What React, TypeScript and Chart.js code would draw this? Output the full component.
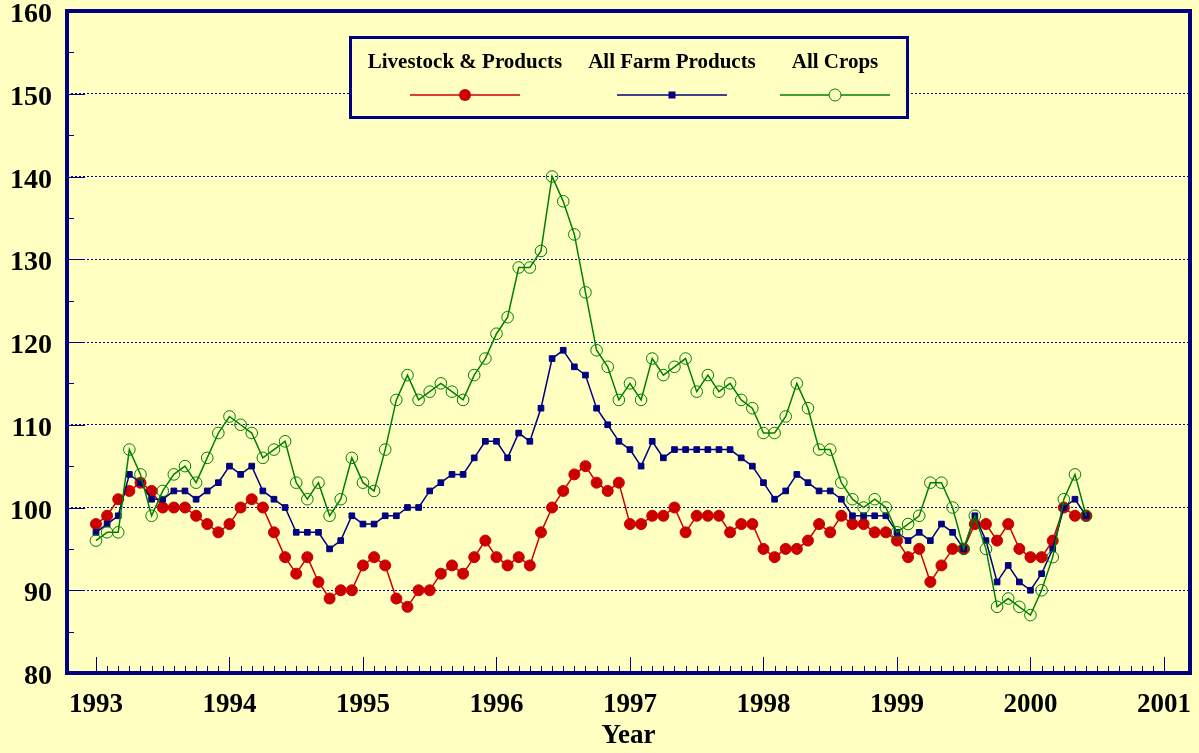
import React, { useEffect, useRef } from "react";
import { Chart, registerables } from "chart.js";

Chart.register(...registerables);

// ---------- data ----------
const START_YEAR = 1993; // first point = January 1993, monthly series
const yearTicks = [1993, 1994, 1995, 1996, 1997, 1998, 1999, 2000, 2001];
const yValueTicks = [80, 90, 100, 110, 120, 130, 140, 150, 160];
const seriesNames = ["Livestock & Products", "All Farm Products", "All Crops"];

const livestock = [
  98, 99, 101, 102, 103, 102, 100, 100, 100, 99, 98, 97,
  98, 100, 101, 100, 97, 94, 92, 94, 91, 89, 90, 90,
  93, 94, 93, 89, 88, 90, 90, 92, 93, 92, 94, 96,
  94, 93, 94, 93, 97, 100, 102, 104, 105, 103, 102, 103,
  98, 98, 99, 99, 100, 97, 99, 99, 99, 97, 98, 98,
  95, 94, 95, 95, 96, 98, 97, 99, 98, 98, 97, 97,
  96, 94, 95, 91, 93, 95, 95, 98, 98, 96, 98, 95,
  94, 94, 96, 100, 99, 99,
];

const farm = [
  97, 98, 99, 104, 103, 101, 101, 102, 102, 101, 102, 103,
  105, 104, 105, 102, 101, 100, 97, 97, 97, 95, 96, 99,
  98, 98, 99, 99, 100, 100, 102, 103, 104, 104, 106, 108,
  108, 106, 109, 108, 112, 118, 119, 117, 116, 112, 110, 108,
  107, 105, 108, 106, 107, 107, 107, 107, 107, 107, 106, 105,
  103, 101, 102, 104, 103, 102, 102, 101, 99, 99, 99, 99,
  97, 96, 97, 96, 98, 97, 95, 99, 96, 91, 93, 91,
  90, 92, 95, 100, 101, 99,
];

const crops = [
  96, 97, 97, 107, 104, 99, 102, 104, 105, 103, 106, 109,
  111, 110, 109, 106, 107, 108, 103, 101, 103, 99, 101, 106,
  103, 102, 107, 113, 116, 113, 114, 115, 114, 113, 116, 118,
  121, 123, 129, 129, 131, 140, 137, 133, 126, 119, 117, 113,
  115, 113, 118, 116, 117, 118, 114, 116, 114, 115, 113, 112,
  109, 109, 111, 115, 112, 107, 107, 103, 101, 100, 101, 100,
  97, 98, 99, 103, 103, 100, 95, 99, 95, 88, 89, 88,
  87, 90, 94, 101, 104, 99,
];

// ---------- styles ----------
const BG = "#FFFFC2";
const NAVY = "#000080";
const RED = "#CC0000";
const BLUE = "#000080";
const GREEN = "#008000";
const FONT = '"Liberation Serif", "Times New Roman", serif';

const toPoints = (vals: number[]) =>
  vals.map((y, i) => ({ x: START_YEAR + i / 12, y }));

const decorPlugin = {
  id: "decor",
  beforeDraw(chart: any) {
    const { ctx, width, height } = chart;
    ctx.save();
    ctx.fillStyle = BG;
    ctx.fillRect(0, 0, width, height);
    ctx.restore();
  },
  afterDraw(chart: any) {
    const { ctx, chartArea: a, scales } = chart;
    const xs = scales.x;
    const ys = scales.y;
    ctx.save();
    ctx.strokeStyle = NAVY;
    ctx.lineWidth = 1;
    // x ticks: major per year, minor per month
    const months = (yearTicks[yearTicks.length - 1] - yearTicks[0]) * 12;
    for (let m = 0; m <= months; m++) {
      const px = Math.round(xs.getPixelForValue(yearTicks[0] + m / 12)) + 0.5;
      const len = m % 12 === 0 ? 16 : 7;
      ctx.beginPath();
      ctx.moveTo(px, a.bottom);
      ctx.lineTo(px, a.bottom - len);
      ctx.stroke();
    }
    // y ticks: major per 10, minor per 5
    for (let v = yValueTicks[0]; v <= yValueTicks[yValueTicks.length - 1]; v += 5) {
      const py = Math.round(ys.getPixelForValue(v)) + 0.5;
      const len = v % 10 === 0 ? 18 : 7;
      ctx.beginPath();
      ctx.moveTo(a.left, py);
      ctx.lineTo(a.left + len, py);
      ctx.stroke();
    }
    // frame
    ctx.lineWidth = 4;
    ctx.strokeRect(a.left, a.top, a.right - a.left, a.bottom - a.top);

    // legend box
    const L = 350.5, T = 37.5, R = 907.5, B = 117.5;
    ctx.fillStyle = BG;
    ctx.fillRect(L, T, R - L, B - T);
    ctx.lineWidth = 3;
    ctx.strokeStyle = NAVY;
    ctx.strokeRect(L, T, R - L, B - T);

    const centers = [465, 672, 835];
    const colors = [RED, BLUE, GREEN];
    ctx.font = `bold 21px ${FONT}`;
    ctx.textAlign = "center";
    ctx.textBaseline = "alphabetic";
    seriesNames.forEach((name, k) => {
      const cx = centers[k];
      ctx.fillStyle = "#000000";
      ctx.fillText(name, cx, 68);
      ctx.strokeStyle = colors[k];
      ctx.lineWidth = 1.5;
      ctx.beginPath();
      ctx.moveTo(cx - 55, 95);
      ctx.lineTo(cx + 55, 95);
      ctx.stroke();
      if (k === 0) {
        ctx.fillStyle = RED;
        ctx.beginPath();
        ctx.arc(cx, 95, 6, 0, Math.PI * 2);
        ctx.fill();
      } else if (k === 1) {
        ctx.fillStyle = BLUE;
        ctx.fillRect(cx - 3.5, 95 - 3.5, 7, 7);
      } else {
        ctx.fillStyle = BG;
        ctx.strokeStyle = GREEN;
        ctx.lineWidth = 1;
        ctx.beginPath();
        ctx.arc(cx, 95, 6, 0, Math.PI * 2);
        ctx.fill();
        ctx.stroke();
      }
    });
    ctx.restore();
  },
};

export default function App() {
  const canvasRef = useRef<HTMLCanvasElement | null>(null);

  useEffect(() => {
    document.body.style.margin = "0";
    document.body.style.background = BG;
    const canvas = canvasRef.current;
    if (!canvas) return;
    const chart = new Chart(canvas, {
      type: "line",
      data: {
        datasets: [
          {
            label: seriesNames[0],
            data: toPoints(livestock),
            borderColor: RED,
            backgroundColor: RED,
            borderWidth: 1.5,
            pointStyle: "circle",
            pointRadius: 5.5,
            pointBorderWidth: 1,
            pointBorderColor: RED,
            pointBackgroundColor: RED,
            tension: 0,
            order: 2,
          },
          {
            label: seriesNames[1],
            data: toPoints(farm),
            borderColor: BLUE,
            backgroundColor: BLUE,
            borderWidth: 1.5,
            pointStyle: "rect",
            pointRadius: 4,
            pointBorderWidth: 1,
            pointBorderColor: BLUE,
            pointBackgroundColor: BLUE,
            tension: 0,
            order: 1,
          },
          {
            label: seriesNames[2],
            data: toPoints(crops),
            borderColor: GREEN,
            backgroundColor: "rgba(0,0,0,0)",
            borderWidth: 1.5,
            pointStyle: "circle",
            pointRadius: 5.8,
            pointBorderWidth: 1,
            pointBorderColor: GREEN,
            pointBackgroundColor: "rgba(0,0,0,0)",
            tension: 0,
            order: 0,
          },
        ],
      },
      options: {
        animation: false,
        responsive: false,
        events: [],
        layout: { padding: { top: 11, right: 9, left: 0, bottom: 0 } },
        plugins: {
          legend: { display: false },
          tooltip: { enabled: false },
          title: { display: false },
        },
        scales: {
          x: {
            type: "linear",
            min: 1992.783,
            max: 2001.195,
            afterBuildTicks: (scale: any) => {
              scale.ticks = yearTicks.map((v) => ({ value: v }));
            },
            afterFit: (scale: any) => {
              scale.height = 80;
              scale.paddingLeft = 0;
              scale.paddingRight = 0;
            },
            grid: { display: false, drawTicks: false },
            border: { display: false },
            ticks: {
              autoSkip: false,
              maxRotation: 0,
              padding: 16,
              color: "#000000",
              font: { family: FONT, size: 27, weight: "bold" },
              callback: (v: any) => String(v),
            },
            title: {
              display: true,
              text: "Year",
              color: "#000000",
              font: { family: FONT, size: 27, weight: "bold" },
              padding: { top: 0, bottom: 1 },
            },
          },
          y: {
            type: "linear",
            min: 80,
            max: 160,
            afterBuildTicks: (scale: any) => {
              scale.ticks = yValueTicks.map((v) => ({ value: v }));
            },
            afterFit: (scale: any) => {
              scale.width = 67;
              scale.paddingTop = 0;
              scale.paddingBottom = 0;
            },
            grid: {
              drawTicks: false,
              color: (ctx: any) =>
                ctx.tick && ctx.tick.value > 80 && ctx.tick.value < 160
                  ? NAVY
                  : "rgba(0,0,0,0)",
              lineWidth: 1,
            },
            border: { display: false, dash: [2, 2] },
            ticks: {
              autoSkip: false,
              padding: 15,
              labelOffset: 4,
              color: "#000000",
              font: { family: FONT, size: 28, weight: "bold" },
              callback: (v: any) => String(v),
            },
          },
        },
      },
      plugins: [decorPlugin],
    } as any);
    return () => chart.destroy();
  }, []);

  return (
    <div style={{ position: "fixed", left: 0, top: 0, width: 1199, height: 753, background: BG }}>
      <canvas ref={canvasRef} width={1199} height={753} style={{ display: "block" }} />
    </div>
  );
}
